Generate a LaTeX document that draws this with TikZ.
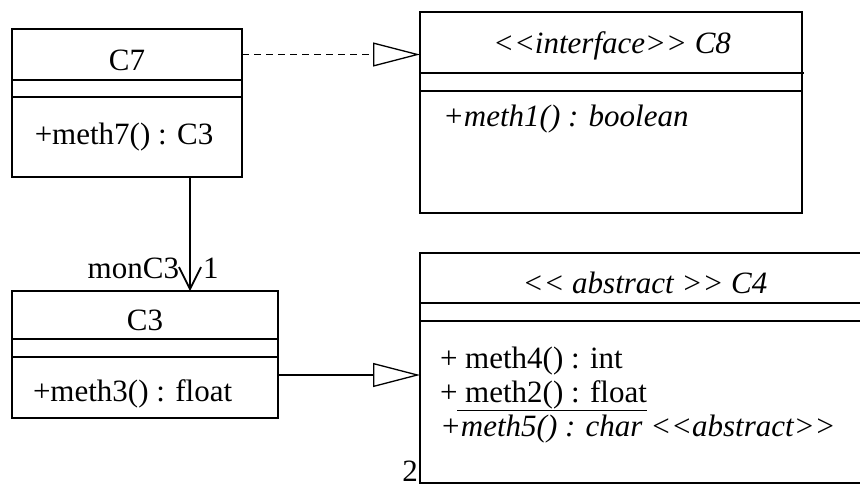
\documentclass[tikz,border=0pt]{standalone}
\usepackage{fontspec}
\setmainfont{Liberation Serif}
\usetikzlibrary{arrows.meta}
\newcommand\lguil{<{}<}
\newcommand\rguil{>{}>}
\tikzset{
  x=1pt,y=-1pt,
  every node/.style={inner sep=0pt,outer sep=0pt,font=\fontsize{31}{35}\selectfont},
  box/.style={draw,line width=1.5pt,anchor=north west},
  sep/.style={line width=1.5pt},
  lbl/.style={anchor=base},
  mlbl/.style={anchor=base west},
  realize/.style={dash pattern=on 7pt off 5pt,line width=1.3pt,-{Triangle[open,length=47pt,width=24pt,line width=1.3pt]}},
  inherit/.style={line width=1.3pt,-{Triangle[open,length=47pt,width=24pt,line width=1.3pt]}},
  assoc/.style={line width=1.7pt,-{Straight Barb[length=22pt,width=22pt,line width=1.7pt]}}
}
\begin{document}
\begin{tikzpicture}
\useasboundingbox (0,0) rectangle (860,488);
\clip (0,0) rectangle (860,488);
% C7
\node[box,minimum width=230pt,minimum height=148pt] (C7) at (12,29) {};
\node[anchor=north west,minimum width=230pt,minimum height=51pt] (C7t) at (12,29) {};
\draw[sep] (12,80) -- (242,80);
\draw[sep] (12,97) -- (242,97);
\node[lbl] (C7n) at (127,70) {C7};
\node[lbl] (C7m) at (124,144) {+meth7() : C3};
% C8
\node[box,minimum width=382pt,minimum height=201pt] (C8) at (420,12) {};
\draw[sep] (420,73) -- (804,73);
\draw[sep] (420,91) -- (802,91);
\node[lbl] (C8n) at (612,53) {\itshape \lguil interface\rguil\ C8};
\node[mlbl] (C8m) at (443,126) {\itshape +meth1() : boolean};
% C3
\node[box,minimum width=266pt,minimum height=127pt] (C3) at (12,291) {};
\draw[sep] (12,339) -- (278,339);
\draw[sep] (12,357) -- (278,357);
\node[lbl] (C3n) at (145,330) {C3};
\node[mlbl] (C3m) at (33,401) {+meth3() : float};
% C4
\node[box,minimum width=460pt,minimum height=230pt] (C4) at (420,253) {};
\draw[sep] (420,303) -- (870,303);
\draw[sep] (420,321) -- (870,321);
\node[lbl] (C4n) at (645,293) {\itshape \lguil\ abstract \rguil\ C4};
\node[mlbl] (C4a) at (440,368) {+ meth4() : int};
\node[mlbl] (C4b) at (440,402) {+\underline{~meth2() : float}};
\node[mlbl] (C4c) at (440,436) {\itshape +meth5() : char \lguil abstract\rguil};
\node[lbl] (two) at (410,481) {2};
% connectors
\draw[realize] (C7t.east) -- (C7t.east -| C8.west);
\draw[assoc] (C7.south -| 190,0) -- (C3.north -| 190,0);
\node[anchor=base east] (role) at (179,278) {monC3};
\node[anchor=base west] (mult) at (203,278) {1};
\draw[inherit] (C3.east |- 0,375) -- (C4.west |- 0,375);
\end{tikzpicture}
\end{document}
